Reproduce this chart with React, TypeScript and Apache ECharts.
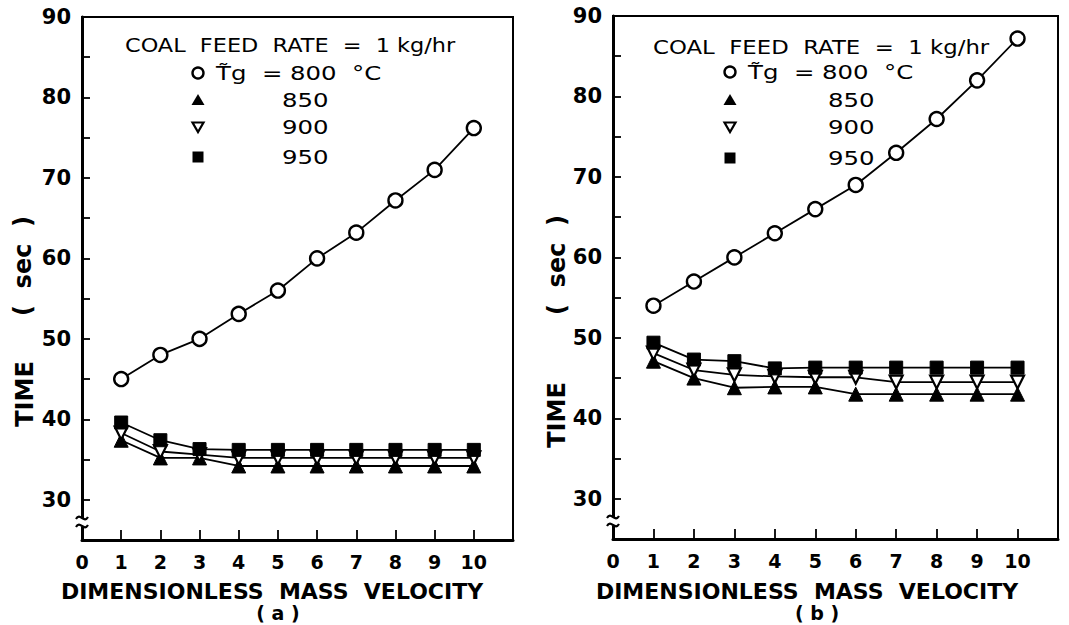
import React, { useEffect, useRef } from "react";
import * as echarts from "echarts";

// Dimensionless mass velocity (x) values
const velocity = [1, 2, 3, 4, 5, 6, 7, 8, 9, 10];
// Gas temperature labels (°C)
const tempLabels = ["800", "850", "900", "950"];
// Panel (a) times (sec)
const timeA800 = [45, 48, 50, 53.1, 56, 60, 63.2, 67.2, 71, 76.2];
const timeA850 = [37.4, 35.2, 35.2, 34.2, 34.2, 34.2, 34.2, 34.2, 34.2, 34.2];
const timeA900 = [38.3, 36, 35.6, 35.2, 35.2, 35.2, 35.2, 35.2, 35.2, 35.2];
const timeA950 = [39.6, 37.4, 36.3, 36.2, 36.2, 36.2, 36.2, 36.2, 36.2, 36.2];
// Panel (b) times (sec)
const timeB800 = [54, 57, 60, 63, 66, 69, 73, 77.2, 82, 87.2];
const timeB850 = [47.1, 45, 43.8, 43.9, 43.9, 43, 43, 43, 43, 43];
const timeB900 = [48.1, 46, 45.4, 45.2, 45.1, 45.1, 44.5, 44.5, 44.5, 44.5];
const timeB950 = [49.4, 47.3, 47.1, 46.2, 46.3, 46.3, 46.3, 46.3, 46.3, 46.3];
// Axis ticks
const xTicks = [0, 1, 2, 3, 4, 5, 6, 7, 8, 9, 10];
const yTickLabels = [30, 40, 50, 60, 70, 80, 90];

const FONT = "DejaVu Sans";

function pairs(ys: number[]) {
  return velocity.map((x, i) => [x, ys[i]]);
}

function seriesFor(idx: number, d800: number[], d850: number[], d900: number[], d950: number[]) {
  const base = {
    type: "line",
    xAxisIndex: idx,
    yAxisIndex: idx,
    lineStyle: { color: "#000", width: 1.8 },
    silent: true,
  };
  return [
    {
      ...base,
      name: tempLabels[0],
      data: pairs(d800),
      symbol: "circle",
      symbolSize: 14,
      itemStyle: { color: "#fff", borderColor: "#000", borderWidth: 2.4 },
    },
    {
      ...base,
      name: tempLabels[1],
      data: pairs(d850),
      symbol: "triangle",
      symbolSize: 14,
      itemStyle: { color: "#000", borderColor: "#000", borderWidth: 1 },
    },
    {
      ...base,
      name: tempLabels[2],
      data: pairs(d900),
      symbol: "triangle",
      symbolRotate: 180,
      symbolSize: 13,
      itemStyle: { color: "#fff", borderColor: "#000", borderWidth: 2.2 },
    },
    {
      ...base,
      name: tempLabels[3],
      data: pairs(d950),
      symbol: "rect",
      symbolSize: 13,
      itemStyle: { color: "#000", borderColor: "#000", borderWidth: 1 },
    },
  ];
}

function xAxisFor(idx: number) {
  return {
    type: "value",
    gridIndex: idx,
    min: 0,
    max: 11,
    interval: 1,
    axisLine: { show: true, lineStyle: { color: "#000", width: 3 } },
    axisTick: { show: true, inside: true, length: 10, lineStyle: { color: "#000", width: 1.8 } },
    splitLine: { show: false },
    axisLabel: {
      color: "#000",
      fontFamily: FONT,
      fontWeight: "bold",
      fontSize: 19,
      margin: 12,
      formatter: (v: number) => (xTicks.indexOf(v) >= 0 ? String(v) : ""),
    },
  };
}

function yAxisFor(idx: number) {
  return {
    type: "value",
    gridIndex: idx,
    min: 25,
    max: 90,
    interval: 5,
    axisLine: { show: true, lineStyle: { color: "#000", width: 3 } },
    axisTick: { show: true, inside: true, length: 8, lineStyle: { color: "#000", width: 1.8 } },
    splitLine: { show: false },
    axisLabel: {
      color: "#000",
      fontFamily: FONT,
      fontWeight: "bold",
      fontSize: 21,
      margin: 11,
      formatter: (v: number) => (yTickLabels.indexOf(v) >= 0 ? String(v) : ""),
    },
  };
}

function legendGraphics(mx: number, nx: number, titleX: number, titleY: number, titleScale: number, rows: number[]) {
  const txt = (text: string, x: number, y: number, size = 20, sx = 1.22) => ({
    type: "text",
    x,
    y,
    scaleX: sx,
    silent: true,
    style: { text, fill: "#000", font: `${size}px "${FONT}"`, textVerticalAlign: "middle", textAlign: "left" },
  });
  const [r0, r1, r2, r3] = rows;
  return [
    txt("COAL  FEED  RATE  =  1 kg/hr", titleX, titleY, 20, titleScale),
    { type: "circle", shape: { cx: mx, cy: r0, r: 5.5 }, style: { fill: "#fff", stroke: "#000", lineWidth: 2.4 } },
    txt("T\u0303g  = 800  °C", mx + 18, r0, 20),
    { type: "polygon", shape: { points: [[mx - 6.5, r1 + 5], [mx + 6.5, r1 + 5], [mx, r1 - 6]] }, style: { fill: "#000" } },
    txt(tempLabels[1], nx, r1),
    { type: "polygon", shape: { points: [[mx - 5.5, r2 - 4.5], [mx + 5.5, r2 - 4.5], [mx, r2 + 5]] }, style: { fill: "#fff", stroke: "#000", lineWidth: 2.2 } },
    txt(tempLabels[2], nx, r2),
    { type: "rect", shape: { x: mx - 5.5, y: r3 - 5.5, width: 11, height: 11 }, style: { fill: "#000" } },
    txt(tempLabels[3], nx, r3),
  ];
}

function breakMark(x: number, y: number) {
  const mk = (yy: number) => ({
    type: "bezierCurve",
    shape: { x1: x - 6, y1: yy + 1, x2: x + 6, y2: yy - 1, cpx1: x - 2, cpy1: yy - 6, cpx2: x + 2, cpy2: yy + 6 },
    style: { stroke: "#000", lineWidth: 2.2, fill: null },
    z: 10,
  });
  return [
    { type: "rect", shape: { x: x - 3, y: y - 4, width: 6, height: 9 }, style: { fill: "#fff" }, z: 9 },
    mk(y - 4),
    mk(y + 4),
  ];
}

function label(text: string, x: number, y: number, size: number, rotation = 0, weight = "bold") {
  return {
    type: "text",
    x,
    y,
    rotation,
    silent: true,
    style: { text, fill: "#000", font: `${weight} ${size}px "${FONT}"`, textAlign: "center", textVerticalAlign: "middle" },
  };
}

export default function App() {
  const ref = useRef<HTMLDivElement>(null);
  useEffect(() => {
    if (!ref.current) return;
    const chart = echarts.init(ref.current, null, { renderer: "svg" });
    const option = {
      animation: false,
      backgroundColor: "#fff",
      grid: [
        { left: 82, top: 17, width: 431, height: 523, show: true, borderColor: "#000", borderWidth: 2, backgroundColor: "transparent" },
        { left: 613, top: 16, width: 445, height: 523, show: true, borderColor: "#000", borderWidth: 2, backgroundColor: "transparent" },
      ],
      xAxis: [xAxisFor(0), xAxisFor(1)],
      yAxis: [yAxisFor(0), yAxisFor(1)],
      series: [
        ...seriesFor(0, timeA800, timeA850, timeA900, timeA950),
        ...seriesFor(1, timeB800, timeB850, timeB900, timeB950),
      ],
      graphic: [
        ...legendGraphics(198, 282, 125, 45, 1.12, [73, 100, 127, 157]),
        ...legendGraphics(730, 828, 653, 47, 1.14, [72, 100, 127, 158]),
        ...breakMark(82, 522),
        ...breakMark(613, 521),
        label("TIME", 25, 394, 24, Math.PI / 2),
        label("(  sec  )", 23, 266, 24, Math.PI / 2),
        label("TIME", 557, 415, 24, Math.PI / 2),
        label("(  sec  )", 557, 265, 24, Math.PI / 2),
        label("DIMENSIONLESS  MASS  VELOCITY", 272, 591, 22),
        label("( a )", 278, 613, 19),
        label("DIMENSIONLESS  MASS  VELOCITY", 807, 591, 22),
        label("( b )", 817, 613, 19),
      ],
    };
    chart.setOption(option as any);
    return () => chart.dispose();
  }, []);
  return (
    <div
      ref={ref}
      style={{ position: "fixed", left: 0, top: 0, width: 1069, height: 625, background: "#fff" }}
    />
  );
}
